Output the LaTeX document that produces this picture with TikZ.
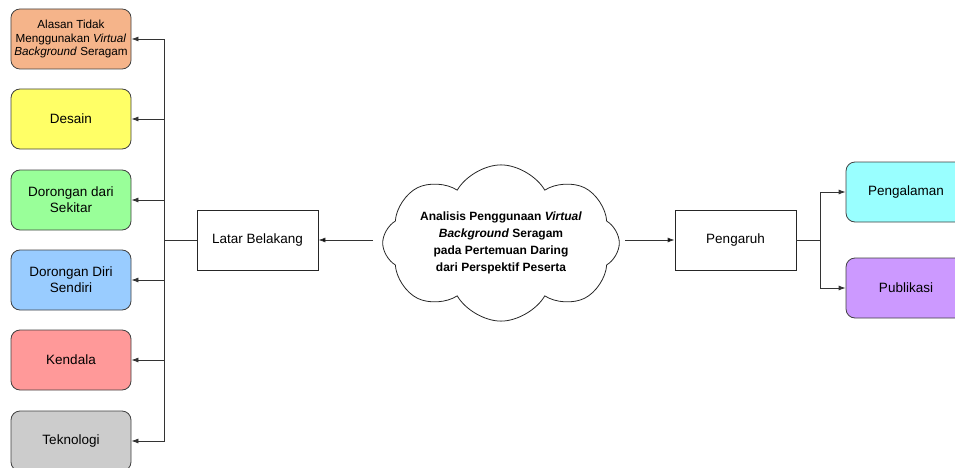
\documentclass[tikz,border=0pt]{standalone}
\usepackage{fontspec}
\setmainfont{Liberation Sans}
\usetikzlibrary{shapes.symbols,arrows.meta}

\definecolor{cOrange}{HTML}{F5B48A}
\definecolor{cYellow}{HTML}{FFFF66}
\definecolor{cGreen}{HTML}{99FF99}
\definecolor{cBlue}{HTML}{99CCFF}
\definecolor{cRed}{HTML}{FF9999}
\definecolor{cGray}{HTML}{CCCCCC}
\definecolor{cCyan}{HTML}{99FFFF}
\definecolor{cPurple}{HTML}{CC99FF}

\begin{document}
\begin{tikzpicture}[x=1pt,y=-1pt,>={Latex[length=7pt,width=5pt]},line width=0.8pt,
    sub node/.style={draw=black!75,rounded corners=9pt,minimum width=120pt,minimum height=60pt,align=center,font=\fontsize{13.5}{16}\selectfont},
    main node/.style={draw=black!85,minimum width=121pt,minimum height=60pt,align=center,font=\fontsize{13.5}{16}\selectfont},
    link/.style={draw=black!80}]
            \useasboundingbox (0,0) rectangle (955,468);

            \node[main node] (lb) at (257.5,240){Latar Belakang};
            \node[main node] (pg) at (735.5,240){Pengaruh};
            \node[cloud,cloud puffs=8,cloud puff arc=120,aspect=2,draw=black!85,minimum width=225pt,minimum height=120pt,inner sep=0pt,align=center,font=\bfseries\fontsize{12}{17}\selectfont] (c) at (501,243){Analisis Penggunaan \textit{Virtual}\\ \textit{Background} Seragam\\ pada Pertemuan Daring\\ dari Perspektif Peserta};

            \node[sub node,fill=cOrange,font=\fontsize{11.7}{13.5}\selectfont] (1) at (71,39){Alasan Tidak\\ Menggunakan \textit{Virtual}\\ \textit{Background} Seragam};
            \node[sub node,fill=cYellow] (2) at (71,119){Desain};
            \node[sub node,fill=cGreen] (3) at (71,200){Dorongan dari\\ Sekitar};
            \node[sub node,fill=cBlue] (4) at (71,280){Dorongan Diri\\ Sendiri};
            \node[sub node,fill=cRed] (5) at (71,360){Kendala};
            \node[sub node,fill=cGray] (6) at (71,441){Teknologi};

            \node[sub node,fill=cCyan] (7) at (906,192){Pengalaman};
            \node[sub node,fill=cPurple] (8) at (906,288){Publikasi};

            \coordinate (j1) at (164,240);
            \coordinate (j2) at (820,240);
            \coordinate (c1) at (373,240);
            \coordinate (c2) at (625,240);

            \path[link]
                (c1) edge[->] (lb)
                (c2) edge[->] (pg)
                (lb) edge (j1)
                (pg) edge (j2);

            \foreach \n in {1,...,6}
                \draw[link,->] (j1) |- (\n.east);
            \foreach \n in {7,8}
                \draw[link,->] (j2) |- (\n.west);
        \end{tikzpicture}
\end{document}
